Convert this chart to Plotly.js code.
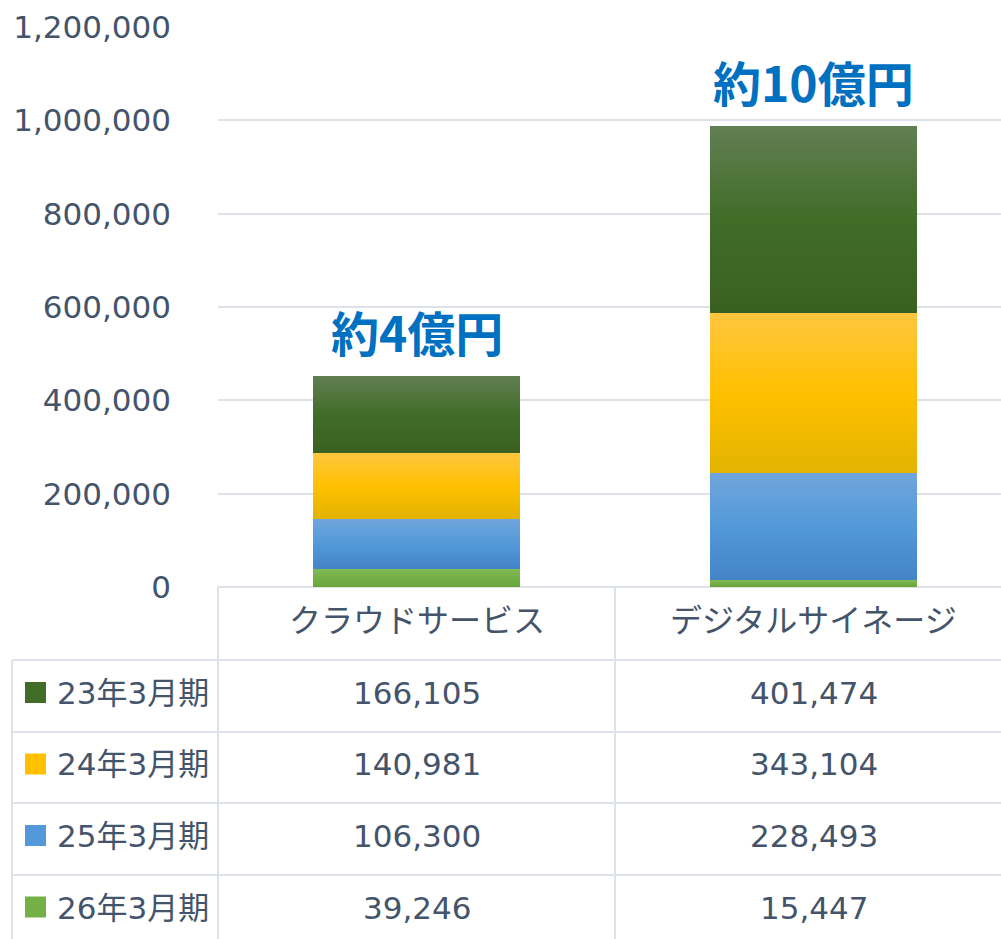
<!DOCTYPE html>
<html>
<head>
<meta charset="utf-8">
<script src="https://cdn.plot.ly/plotly-3.0.1.min.js"></script>
<style>html,body{margin:0;padding:0;background:#fff;}#chart{width:1001px;height:939px;}</style>
</head>
<body>
<div id="chart"></div>
<script>
// ---- data ----
const categories = ['クラウドサービス', 'デジタルサイネージ'];
const periods = ['23年3月期', '24年3月期', '25年3月期', '26年3月期'];
const v23 = [166105, 401474];
const v24 = [140981, 343104];
const v25 = [106300, 228493];
const v26 = [39246, 15447];
const totalLabels = ['約4億円', '約10億円'];
const yTicks = [0, 200000, 400000, 600000, 800000, 1000000, 1200000];

// ---- styles ----
const W = 1001, H = 939;
const M = {l: 218, r: 0, t: 27, b: 352};
const plotW = W - M.l - M.r, plotH = H - M.t - M.b;
const textColor = '#44546A';
const lineColor = '#DDE1E8';
const font = '"DejaVu Sans", "Noto Sans CJK JP", sans-serif';
const colors = {
  '23年3月期': ['#627F53', '#416C28', '#3A6020'],
  '24年3月期': ['#FFC63F', '#FFC000', '#E2B300'],
  '25年3月期': ['#70A5DB', '#5399DA', '#4384C7'],
  '26年3月期': ['#80BB57', '#74B046', '#68A63A']
};
const seriesByPeriod = {'23年3月期': v23, '24年3月期': v24, '25年3月期': v25, '26年3月期': v26};
const stackOrder = ['26年3月期', '25年3月期', '24年3月期', '23年3月期'];

const traces = stackOrder.map(p => ({
  type: 'bar', name: p, x: [0, 1], y: seriesByPeriod[p],
  marker: {color: colors[p][1], line: {width: 0}},
  hoverinfo: 'skip'
}));

const px2py = py => (M.t + plotH - py) / plotH;   // pixel y -> paper y
const px2px = px => (px - M.l) / plotW;           // pixel x -> paper x

const shapes = [];
const annotations = [];

// totals above bars
categories.forEach((c, i) => {
  const tot = v23[i] + v24[i] + v25[i] + v26[i];
  annotations.push({
    x: i, y: tot, xref: 'x', yref: 'y', text: totalLabels[i], showarrow: false,
    yanchor: 'bottom', yshift: 8,
    font: {family: '"Noto Sans CJK JP", sans-serif', size: 48, color: '#0070C0', weight: 'bold'}
  });
});

// table geometry
const headerBottom = 660;
const rowLines = [660, 732, 803, 875, 946];
const tableLeft = 12;

// horizontal lines
rowLines.forEach(py => {
  shapes.push({type: 'line', xref: 'paper', yref: 'paper', x0: px2px(tableLeft), x1: 1.02,
    y0: px2py(py), y1: px2py(py), line: {color: lineColor, width: 2}});
});
// vertical lines
shapes.push({type: 'line', xref: 'paper', yref: 'paper', x0: 0, x1: 0, y0: 0, y1: px2py(960), line: {color: lineColor, width: 2}});
shapes.push({type: 'line', xref: 'x', yref: 'paper', x0: 0.5, x1: 0.5, y0: 0, y1: px2py(960), line: {color: lineColor, width: 2}});
shapes.push({type: 'line', xref: 'paper', yref: 'paper', x0: px2px(tableLeft), x1: px2px(tableLeft), y0: px2py(headerBottom), y1: px2py(960), line: {color: lineColor, width: 2}});

// header labels
categories.forEach((c, i) => {
  annotations.push({x: i, y: px2py(621), xref: 'x', yref: 'paper', text: c, showarrow: false,
    yanchor: 'middle', font: {family: font, size: 32, color: textColor}});
});

// data rows
periods.forEach((p, r) => {
  const cy = (rowLines[r] + rowLines[r + 1]) / 2 - 3;
  shapes.push({type: 'rect', xref: 'paper', yref: 'paper', x0: px2px(25), x1: px2px(46),
    y0: px2py(cy + 10), y1: px2py(cy - 11), fillcolor: colors[p][1], line: {width: 0}});
  annotations.push({x: px2px(55), y: px2py(cy), xref: 'paper', yref: 'paper', text: p, showarrow: false,
    xanchor: 'left', yanchor: 'middle', font: {family: font, size: 31, color: textColor}});
  categories.forEach((c, i) => {
    annotations.push({x: i, y: px2py(cy), xref: 'x', yref: 'paper',
      text: seriesByPeriod[p][i].toLocaleString('en-US'), showarrow: false,
      yanchor: 'middle', font: {family: font, size: 31, color: textColor}});
  });
});

const layout = {
  width: W, height: H, margin: M,
  paper_bgcolor: '#fff', plot_bgcolor: '#fff',
  barmode: 'stack', bargap: 0.48, showlegend: false,
  xaxis: {type: 'linear', range: [-0.5, -0.5 + plotW / 397], showticklabels: false, showgrid: false,
    zeroline: false, ticks: '', fixedrange: true},
  yaxis: {range: [0, 1200000], tickvals: yTicks, tickformat: ',d', showgrid: true, gridcolor: lineColor, gridwidth: 2,
    zeroline: true, zerolinecolor: lineColor, zerolinewidth: 2, ticks: '', ticklabelstandoff: 46,
    tickfont: {family: font, size: 31, color: textColor}, fixedrange: true},
  shapes: shapes, annotations: annotations,
  font: {family: font, color: textColor}
};

Plotly.newPlot('chart', traces, layout, {staticPlot: true}).then(gd => {
  // vertical gradients on the bar segments
  const svgNS = 'http://www.w3.org/2000/svg';
  const defs = gd.querySelector('.main-svg defs');
  const groups = gd.querySelectorAll('.barlayer .trace');
  groups.forEach((g, ti) => {
    const cols = colors[stackOrder[ti]];
    const id = 'grad' + ti;
    const lg = document.createElementNS(svgNS, 'linearGradient');
    lg.setAttribute('id', id); lg.setAttribute('x1', '0'); lg.setAttribute('y1', '0');
    lg.setAttribute('x2', '0'); lg.setAttribute('y2', '1');
    [[0, cols[0]], [0.5, cols[1]], [1, cols[2]]].forEach(([o, c]) => {
      const s = document.createElementNS(svgNS, 'stop');
      s.setAttribute('offset', o); s.setAttribute('stop-color', c);
      lg.appendChild(s);
    });
    defs.appendChild(lg);
    g.querySelectorAll('path').forEach(p => { p.style.fill = 'url(#' + id + ')'; });
  });
});
</script>
</body>
</html>
